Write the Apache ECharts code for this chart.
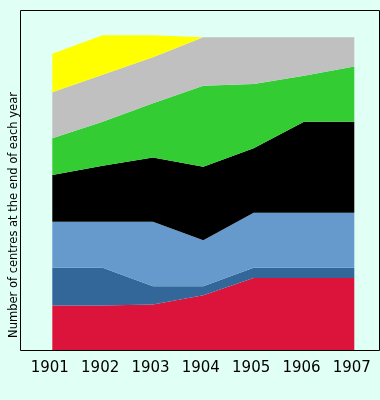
<!DOCTYPE html>
<html>
<head>
<meta charset="utf-8">
<script src="https://cdn.jsdelivr.net/npm/echarts@6/dist/echarts.min.js"></script>
<style>
html,body{margin:0;padding:0;background:#e0fff5;}
#chart{width:380px;height:400px;}
</style>
</head>
<body>
<div id="chart"></div>
<script>
var years = ['1901', '1902', '1903', '1904', '1905', '1906', '1907'];
var redValues = [4.9, 4.9, 5.0, 6.0, 7.9, 7.9, 7.9];
var darkBlueValues = [4.1, 4.1, 2.0, 1.0, 1.1, 1.1, 1.1];
var lightBlueValues = [5.0, 5.0, 7.0, 5.0, 6.0, 6.0, 6.0];
var blackValues = [5.1, 6.1, 7.0, 8.0, 7.0, 9.9, 9.9];
var greenValues = [4.0, 4.8, 5.9, 8.8, 7.0, 5.0, 6.0];
var silverValues = [5.0, 5.1, 5.0, 5.3, 5.1, 4.2, 3.2];
var yellowValues = [4.2, 4.3, 2.4, 0, 0, 0, 0];
var yAxisTitle = 'Number of centres at the end of each year';

var layers = [
  { name: 'red', values: redValues, color: '#dc143c' },
  { name: 'darkblue', values: darkBlueValues, color: '#336699' },
  { name: 'lightblue', values: lightBlueValues, color: '#6699cc' },
  { name: 'black', values: blackValues, color: '#000000' },
  { name: 'green', values: greenValues, color: '#33cc33' },
  { name: 'silver', values: silverValues, color: '#c0c0c0' },
  { name: 'yellow', values: yellowValues, color: '#ffff00' }
];

var chart = echarts.init(document.getElementById('chart'), null, { renderer: 'canvas' });
chart.setOption({
  backgroundColor: '#e0fff5',
  animation: false,
  grid: [{
    show: false,
    left: 52.3, top: 10.5, right: 25.7, bottom: 49.5,
    containLabel: false
  }, {
    show: true,
    left: 20.5, top: 10.5, right: 0.5, bottom: 49.5,
    borderColor: '#000', borderWidth: 1,
    backgroundColor: 'transparent',
    containLabel: false,
    z: 10
  }],
  xAxis: [{
    gridIndex: 0,
    type: 'category',
    data: years,
    boundaryGap: false,
    axisLine: { show: false },
    axisTick: { show: false },
    splitLine: { show: false },
    axisLabel: {
      margin: 10,
      interval: 0,
      fontFamily: 'DejaVu Sans',
      fontSize: 15,
      color: '#000',
      padding: [0, 5, 0, 0]
    }
  }, {
    gridIndex: 1, type: 'value', show: false, min: 0, max: 1
  }],
  yAxis: [{
    gridIndex: 0,
    type: 'value',
    min: 0, max: 37,
    axisLine: { show: false },
    axisTick: { show: false },
    axisLabel: { show: false },
    splitLine: { show: false }
  }, {
    gridIndex: 1, type: 'value', show: false, min: 0, max: 1
  }],
  graphic: [{
    type: 'text',
    x: 14, y: 215,
    rotation: Math.PI / 2,
    style: {
      text: yAxisTitle,
      fontFamily: 'DejaVu Sans',
      fontSize: 11.5,
      fill: '#000',
      align: 'center',
      verticalAlign: 'middle'
    }
  }],
  series: layers.map(function (l) {
    return {
      name: l.name,
      type: 'line',
      xAxisIndex: 0,
      yAxisIndex: 0,
      stack: 'total',
      showSymbol: false,
      symbol: 'none',
      lineStyle: { width: 0 },
      areaStyle: { color: l.color, opacity: 1 },
      itemStyle: { color: l.color },
      data: l.values
    };
  })
});
</script>
</body>
</html>
